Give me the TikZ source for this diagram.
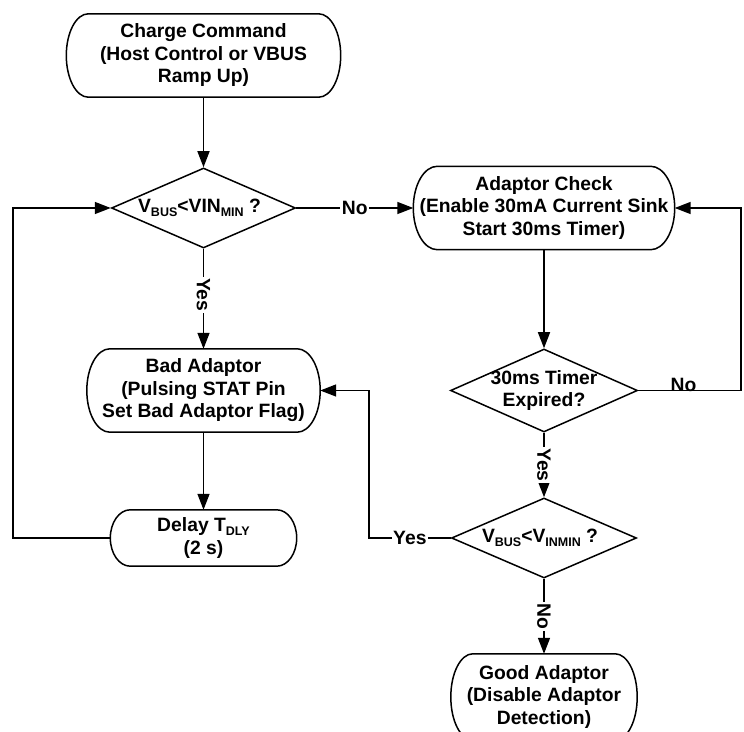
\documentclass[tikz,border=0pt]{standalone}
\usepackage{fontspec}
\setmainfont{Liberation Sans}
\usetikzlibrary{arrows.meta,shapes.geometric,calc}
\newcommand{\lsub}[1]{\raisebox{-0.35ex}{\fontsize{12.5pt}{12.5pt}\selectfont #1}}
\newcommand{\capsule}[2]{%
  \draw[boxline] let \p1=(#1.north east), \p2=(#1.south west), \n1={(\y1-\y2)/2} in
    (\x2+#2,\y1) -- (\x1-#2,\y1)
    arc[start angle=90, end angle=-90, x radius=#2, y radius={\n1}]
    -- (\x2+#2,\y2)
    arc[start angle=270, end angle=90, x radius=#2, y radius={\n1}] -- cycle;}
\begin{document}
\begin{tikzpicture}[x=1pt,y=1pt,
  every node/.style={font=\bfseries\fontsize{19.3pt}{22.5pt}\selectfont},
  boxline/.style={line width=1.5pt},
  boxn/.style={draw=none, align=center, inner sep=0pt},
  dia/.style={shape=diamond, draw, line width=1.5pt, inner sep=0pt},
  dtext/.style={align=center, inner sep=0pt},
  arr/.style={-{Triangle[length=16pt,width=12pt]}, line width=1.5pt},
  lab/.style={fill=white, inner sep=1.5pt}]
\fill[white] (0,0) rectangle (744,731);
\useasboundingbox (0,0) rectangle (744,731);

% terminal / process boxes
\node[boxn, minimum width=274pt, minimum height=83pt] (cc) at (203.5,675.5)
  {Charge Command\\(Host Control or VBUS\\Ramp Up)};
\capsule{cc}{22pt}
\node[boxn, minimum width=261pt, minimum height=83pt] (ac) at (544,523)
  {Adaptor Check\\(Enable 30mA Current Sink\\Start 30ms Timer)};
\capsule{ac}{24pt}
\node[boxn, minimum width=233pt, minimum height=83pt] (bad) at (203.5,340.5)
  {Bad Adaptor\\(Pulsing STAT Pin\\Set Bad Adaptor Flag)};
\capsule{bad}{23pt}
\node[boxn, minimum width=186pt, minimum height=56pt] (delay) at (203.5,193)
  {Delay T\lsub{DLY}\\(2 s)};
\capsule{delay}{20pt}
\node[boxn, minimum width=186pt, minimum height=86pt] (good) at (544,34)
  {Good Adaptor\\(Disable Adaptor\\Detection)};
\capsule{good}{22pt}

% decisions
\node[dia, minimum width=184pt, minimum height=80pt] (d1) at (203.5,523) {};
\node[dtext] (d1t) at ([xshift=-4pt]d1.center) {V\lsub{BUS}<VIN\lsub{MIN} ?};
\node[dia, minimum width=187pt, minimum height=83pt] (d2) at (544,340.5) {};
\node[dtext] (d2t) at (d2.center) {30ms Timer\\Expired?};
\node[dia, minimum width=185pt, minimum height=80pt] (d3) at (544,193) {};
\node[dtext] (d3t) at ([xshift=-4pt]d3.center) {V\lsub{BUS}<V\lsub{INMIN} ?};

% bend points
\coordinate (r1) at (741,340.5);
\coordinate (l1) at (369,193);
\coordinate (l2) at (13,193);

% connectors
\draw[arr] (cc.south) -- (d1.north);
\draw[arr] (d1.east) -- node[lab]{No} (ac.west);
\draw[arr] (d1.south) -- node[lab, rotate=-90, pos=0.46]{Yes} (bad.north);
\draw[arr] (ac.south) -- (d2.north);
\draw[arr] (d2.east) -- node[above, inner sep=0pt, yshift=-1.5pt, pos=0.44]{No} (r1) |- (ac.east);
\draw[arr] (d2.south) -- node[lab, rotate=-90, pos=0.5]{Yes} (d3.north);
\draw[arr] (d3.west) -- node[lab]{Yes} (l1) |- (bad.east);
\draw[arr] (bad.south) -- (delay.north);
\draw[arr] (delay.west) -- (l2) |- (d1.west);
\draw[arr] (d3.south) -- node[lab, rotate=-90, pos=0.5]{No} (good.north);
\end{tikzpicture}
\end{document}
